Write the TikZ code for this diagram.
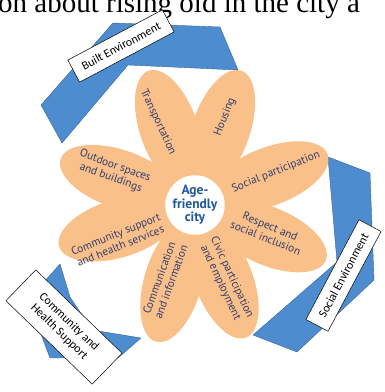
\documentclass[tikz,border=0pt]{standalone}
\usepackage{fontspec}
\setmainfont{Liberation Serif}
\newfontfamily\labelfont{Carlito}
\newfontfamily\petalfont{PT Sans}
\usepackage{tikz}
\usepackage[x11names]{xcolor}
\definecolor{petalorange}{RGB}{249,192,138}
\definecolor{petalink}{RGB}{52,62,112}
\definecolor{cityblue}{RGB}{30,88,160}
\definecolor{bandblue}{RGB}{78,140,208}
\definecolor{bandedge}{RGB}{58,100,160}

\begin{document}
\begin{tikzpicture}[x=1pt,y=1pt,
        band/.style={fill=bandblue, draw=bandedge, line width=0.4pt, line join=round},
        tag/.style={draw=black, fill=white, line width=0.5pt, inner sep=1pt, align=center,
            font=\labelfont\fontsize{12}{14}\selectfont},
        petal/.style={fill=petalorange},
        petaltext/.style={text=petalink, inner sep=0pt, align=center,
            font=\petalfont\fontsize{11.3}{12.6}\selectfont}]

        \useasboundingbox (0,0) rectangle (385,392);
        \clip (0,0) rectangle (385,392);

        % Draw the cut-off line of text above
        \node[anchor=base west, inner sep=0pt, font=\fontsize{29}{30}\selectfont] (caption) at (-2,379) {on about rising old in the city a};

        % Draw the three blue bands
        \draw[band] (113,369) -- (220,365) -- (238,322) -- (128,327) -- (62,249) -- (41,287) -- cycle;
        \draw[band] (328,235) -- (370,219) -- (374,112) -- (297,40) -- (253,57) -- (337,130) -- cycle;
        \draw[band] (60,128) -- (70,95) -- (92,62) -- (141,54) -- (118,34) -- (50,34) -- (28,92) -- cycle;

        % Label the bands
        \node[tag, minimum width=107, minimum height=25, rotate=28] (built) at (121,346) {Built Environment};
        \node[tag, minimum width=113, minimum height=25, rotate=62] (social) at (343.5,116.5) {Social Environment};
        \node[tag, minimum width=120, minimum height=43, rotate=-44] (health) at (64,65) {Community and\\Health Support};

        % Draw the petals of the flower
        \coordinate (hub) at (195,187);
        \foreach \a in {109,71,21,-23,-69,-106,-163,161} {
            \fill[petal, shift={(hub)}, rotate=\a] (80,0) ellipse [x radius=62pt, y radius=29pt];
        }

        % Centre of the flower
        \node[circle, fill=white, minimum size=52, inner sep=0pt, align=center, text=cityblue,
            font=\petalfont\bfseries\fontsize{13.5}{13.5}\selectfont] (city) at (hub) {Age-\\friendly\\city};

        % Label the petals
        \node[petaltext, rotate=-65] (transport) at (158,270) {Transportation};
        \node[petaltext, rotate=68] (housing) at (225,275) {Housing};
        \node[petaltext, rotate=22] (participation) at (276,220) {Social participation};
        \node[petaltext, rotate=-22] (respect) at (268,160) {Respect and\\social inclusion};
        \node[petaltext, rotate=-65] (civic) at (226,112) {Civic participation\\and employment};
        \node[petaltext, rotate=70] (communication) at (165,112) {Communication\\and information};
        \node[petaltext, rotate=22] (support) at (118,152) {Community support\\and health services};
        \node[petaltext, rotate=-20] (outdoor) at (113,220) {Outdoor spaces\\and buildings};
    \end{tikzpicture}
\end{document}
